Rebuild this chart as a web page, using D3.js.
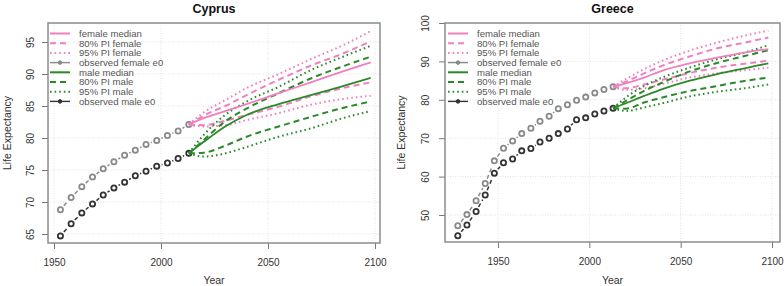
<!DOCTYPE html>
<html>
<head>
<meta charset="utf-8">
<script src="https://cdn.jsdelivr.net/npm/d3@7/dist/d3.min.js"></script>
<style>
  html, body { margin: 0; padding: 0; background: #fff; }
  svg { display: block; font-family: "Liberation Sans", Arial, sans-serif; }
</style>
</head>
<body>
<svg id="chart" width="784" height="286"></svg>
<script>
// ---------------- DATA ----------------
const panelTitles = ["Cyprus", "Greece"];
const xTickValues = [1950, 2000, 2050, 2100];
const cyprusYTicks = [65, 70, 75, 80, 85, 90, 95];
const greeceYTicks = [50, 60, 70, 80, 90, 100];
const legendLabels = ["female median", "80% PI female", "95% PI female", "observed female e0",
                      "male median", "80% PI male", "95% PI male", "observed male e0"];

const cyprusObsYears  = [1953,1958,1963,1968,1973,1978,1983,1988,1993,1998,2003,2008,2013];
const cyprusObsFemale = [68.8,70.7,72.4,73.9,75.2,76.3,77.3,78.1,79.0,79.6,80.4,81.1,82.1];
const cyprusObsMale   = [64.7,66.6,68.3,69.7,71.1,72.2,73.1,74.1,74.8,75.6,76.1,76.8,77.6];

const cyprusProjYears    = [2013,2020,2030,2040,2055,2070,2085,2098];
const cyprusFemaleMedian = [82.1,83.1,84.2,85.3,87.0,88.7,90.4,91.8];
const cyprusFemale80Up   = [82.1,83.5,85.0,86.7,89.1,91.3,93.2,95.1];
const cyprusFemale95Up   = [82.1,84.0,85.9,87.8,90.0,92.3,94.5,96.7];
const cyprusFemale80Low  = [82.1,82.0,82.7,83.6,84.9,86.5,87.8,88.7];
const cyprusFemale95Low  = [82.1,81.8,82.0,82.8,83.9,85.2,86.1,86.6];
const cyprusMaleMedian   = [77.6,79.4,81.8,83.6,85.3,86.7,88.1,89.4];
const cyprusMale80Up     = [77.6,79.7,82.6,84.6,87.0,89.3,91.2,92.7];
const cyprusMale95Up     = [77.6,80.5,83.6,85.7,88.0,90.6,92.7,94.4];
const cyprusMale80Low    = [77.6,77.7,78.8,80.2,81.8,83.3,84.7,85.7];
const cyprusMale95Low    = [77.6,77.1,77.6,78.6,80.2,81.5,83.1,84.2];

const greeceObsYears  = [1928,1933,1938,1943,1948,1953,1958,1963,1968,1973,1978,1983,1988,1993,1998,2003,2008,2013];
const greeceObsFemale = [47.2,50.1,53.7,58.2,64.1,67.4,69.3,71.2,72.6,74.4,75.7,77.7,78.7,79.9,80.7,81.8,82.7,83.4];
const greeceObsMale   = [44.6,47.4,50.9,55.2,60.9,63.6,64.6,66.7,67.3,69.0,70.0,71.2,72.4,74.8,75.3,76.3,77.1,77.8];

const greeceProjYears    = [2013,2020,2030,2040,2055,2070,2085,2098];
const greeceFemaleMedian = [83.4,84.3,85.8,87.6,89.5,91.0,92.3,93.2];
const greeceFemale80Up   = [83.4,84.7,86.9,88.9,91.3,93.4,94.9,96.2];
const greeceFemale95Up   = [83.4,85.4,88.0,90.2,92.8,94.9,96.7,98.0];
const greeceFemale80Low  = [83.4,83.0,84.0,85.2,87.0,88.4,89.4,90.2];
const greeceFemale95Low  = [83.4,82.6,83.0,84.1,85.8,86.9,87.7,88.4];
const greeceMaleMedian   = [77.8,79.1,81.0,82.8,85.0,86.7,88.2,89.5];
const greeceMale80Up     = [77.8,79.7,82.3,84.5,87.4,89.6,91.4,92.9];
const greeceMale95Up     = [77.8,80.6,83.6,85.8,88.4,90.6,92.3,94.2];
const greeceMale80Low    = [77.8,77.7,79.3,80.6,82.3,83.6,84.9,85.8];
const greeceMale95Low    = [77.8,77.1,78.0,79.1,80.9,82.1,83.0,84.0];

// ---------------- STYLE ----------------
const PINK = "#f07fc0", GREEN = "#2a8a2a", GREYF = "#8a8a8a", BLACKM = "#333333";
const DASH = "6,4", DOT = "1.6,3";

const svg = d3.select("#chart");

function drawPanel(p) {
  const g = svg.append("g");
  const x = d3.scaleLinear().domain([1950, 2100]).range(p.xRange);
  const y = d3.scaleLinear().domain(p.yDomain).range(p.yRange);
  const [bx0, bx1, by0, by1] = p.box;

  // grid
  g.append("g").selectAll("line").data(xTickValues).join("line")
    .attr("x1", d => x(d)).attr("x2", d => x(d)).attr("y1", by0).attr("y2", by1)
    .attr("stroke", "#e2e2e2").attr("stroke-dasharray", "1,1.5");
  g.append("g").selectAll("line").data(p.yTicks).join("line")
    .attr("y1", d => y(d)).attr("y2", d => y(d)).attr("x1", bx0).attr("x2", bx1)
    .attr("stroke", "#e2e2e2").attr("stroke-dasharray", "1,1.5");

  // axes
  const ax = g.append("g").attr("transform", `translate(0,${by1})`)
    .call(d3.axisBottom(x).tickValues(xTickValues).tickFormat(d3.format("d")).tickSize(6).tickPadding(10));
  ax.select(".domain").remove();
  ax.selectAll("line").attr("stroke", "#777");
  ax.selectAll("text").attr("font-size", 10).attr("fill", "#333").attr("font-family", "Liberation Sans, Arial, sans-serif");

  const ay = g.append("g").attr("transform", `translate(${bx0},0)`)
    .call(d3.axisLeft(y).tickValues(p.yTicks).tickFormat(d3.format("d")).tickSize(6));
  ay.select(".domain").remove();
  ay.selectAll("line").attr("stroke", "#777");
  ay.selectAll("text").attr("font-size", 10).attr("fill", "#333").attr("font-family", "Liberation Sans, Arial, sans-serif")
    .attr("transform", "rotate(-90)").attr("x", 0).attr("y", -p.yLabOff).attr("dy", 0)
    .attr("text-anchor", "middle");

  // box
  g.append("rect").attr("x", bx0).attr("y", by0).attr("width", bx1 - bx0).attr("height", by1 - by0)
    .attr("fill", "none").attr("stroke", "#8c8c8c").attr("stroke-width", 1.5);

  // titles and axis labels
  g.append("text").attr("x", (bx0 + bx1) / 2).attr("y", 13).attr("text-anchor", "middle")
    .attr("font-size", 12.5).attr("font-weight", "bold").attr("fill", "#111").text(p.title);
  g.append("text").attr("x", (bx0 + bx1) / 2).attr("y", 284).attr("text-anchor", "middle")
    .attr("font-size", 10.5).attr("fill", "#333").text("Year");
  g.append("text").attr("transform", `translate(${p.ylabX},${(by0 + by1) / 2}) rotate(-90)`)
    .attr("text-anchor", "middle").attr("font-size", 10.5).attr("fill", "#333").text("Life Expectancy");

  // observed series (type "b": points joined by broken dashed segments)
  function observed(years, vals, color) {
    const pts = years.map((yr, i) => [x(yr), y(vals[i])]);
    const gap = 5.2;
    const segs = [];
    for (let i = 0; i < pts.length - 1; i++) {
      const [x0, y0] = pts[i], [x1, y1] = pts[i + 1];
      const L = Math.hypot(x1 - x0, y1 - y0);
      if (L > 2 * gap + 0.5) {
        const ux = (x1 - x0) / L, uy = (y1 - y0) / L;
        segs.push([x0 + ux * gap, y0 + uy * gap, x1 - ux * gap, y1 - uy * gap]);
      }
    }
    g.append("g").selectAll("line").data(segs).join("line")
      .attr("x1", d => d[0]).attr("y1", d => d[1]).attr("x2", d => d[2]).attr("y2", d => d[3])
      .attr("stroke", color).attr("stroke-width", 1.5).attr("stroke-dasharray", "4,3");
    g.append("g").selectAll("circle").data(pts).join("circle")
      .attr("cx", d => d[0]).attr("cy", d => d[1]).attr("r", 2.6)
      .attr("fill", "none").attr("stroke", color).attr("stroke-width", 1.8);
  }
  observed(p.obsYears, p.obsFemale, GREYF);
  observed(p.obsYears, p.obsMale, BLACKM);

  // projections
  const line = d3.line().x(d => x(d[0])).y(d => y(d[1])).curve(d3.curveMonotoneX);
  function proj(vals, color, dash, w) {
    g.append("path").datum(p.projYears.map((yr, i) => [yr, vals[i]]))
      .attr("d", line).attr("fill", "none").attr("stroke", color)
      .attr("stroke-width", w).attr("stroke-dasharray", dash);
  }
  proj(p.f95up, PINK, DOT, 2); proj(p.f95low, PINK, DOT, 2);
  proj(p.f80up, PINK, DASH, 2); proj(p.f80low, PINK, DASH, 2);
  proj(p.m95up, GREEN, DOT, 2); proj(p.m95low, GREEN, DOT, 2);
  proj(p.m80up, GREEN, DASH, 2); proj(p.m80low, GREEN, DASH, 2);
  proj(p.fmed, PINK, null, 1.8);
  proj(p.mmed, GREEN, null, 1.8);

  // legend
  const styles = [
    [PINK, null, false], [PINK, DASH, false], [PINK, DOT, false], [GREYF, null, true],
    [GREEN, null, false], [GREEN, DASH, false], [GREEN, DOT, false], [BLACKM, null, true]
  ];
  const lg = g.append("g");
  legendLabels.forEach((lab, i) => {
    const ly = 33.5 + i * 9.7;
    const [c, dsh, pt] = styles[i];
    lg.append("line").attr("x1", p.legX).attr("x2", p.legX + 20).attr("y1", ly).attr("y2", ly)
      .attr("stroke", c).attr("stroke-width", pt ? 1.4 : 2).attr("stroke-dasharray", dsh);
    if (pt) lg.append("circle").attr("cx", p.legX + 10).attr("cy", ly).attr("r", 1.8)
      .attr("fill", c).attr("stroke", c);
    lg.append("text").attr("x", p.legX + 29).attr("y", ly + 3.4)
      .attr("font-size", 9.6).attr("fill", "#555").text(lab);
  });
}

drawPanel({
  title: panelTitles[0], xRange: [54, 375], yDomain: [65, 95], yRange: [234, 42],
  box: [48, 380, 23, 243], yTicks: cyprusYTicks, yLabOff: 14, ylabX: 11, legX: 50,
  obsYears: cyprusObsYears, obsFemale: cyprusObsFemale, obsMale: cyprusObsMale,
  projYears: cyprusProjYears, fmed: cyprusFemaleMedian, f80up: cyprusFemale80Up, f95up: cyprusFemale95Up,
  f80low: cyprusFemale80Low, f95low: cyprusFemale95Low, mmed: cyprusMaleMedian, m80up: cyprusMale80Up,
  m95up: cyprusMale95Up, m80low: cyprusMale80Low, m95low: cyprusMale95Low
});
drawPanel({
  title: panelTitles[1], xRange: [498, 772], yDomain: [50, 100], yRange: [215, 23],
  box: [445, 780, 23, 242], yTicks: greeceYTicks, yLabOff: 16, ylabX: 405, legX: 448,
  obsYears: greeceObsYears, obsFemale: greeceObsFemale, obsMale: greeceObsMale,
  projYears: greeceProjYears, fmed: greeceFemaleMedian, f80up: greeceFemale80Up, f95up: greeceFemale95Up,
  f80low: greeceFemale80Low, f95low: greeceFemale95Low, mmed: greeceMaleMedian, m80up: greeceMale80Up,
  m95up: greeceMale95Up, m80low: greeceMale80Low, m95low: greeceMale95Low
});
</script>
</body>
</html>
